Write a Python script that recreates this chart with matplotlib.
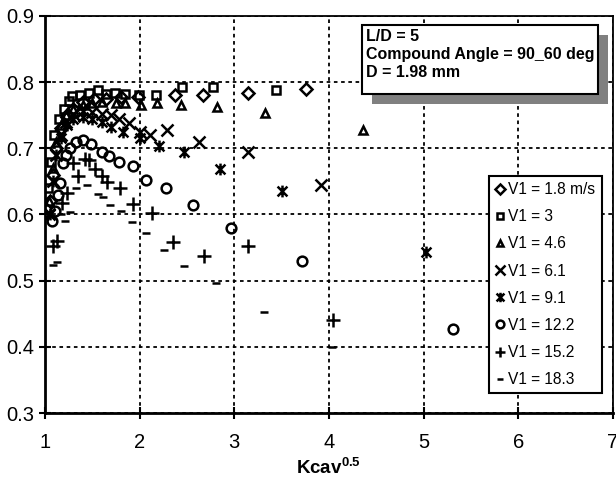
import numpy as np
import matplotlib
matplotlib.use("Agg")
import matplotlib.pyplot as plt
from matplotlib.path import Path
from matplotlib.patches import Rectangle

plt.rcParams['font.family'] = ['Liberation Sans', 'DejaVu Sans']
plt.rcParams['mathtext.fontset'] = 'custom'
plt.rcParams['mathtext.rm'] = 'Liberation Sans'
plt.rcParams['mathtext.bf'] = 'Liberation Sans:bold'

# data (x = Kcav^0.5, y = effectiveness)
v18_x = [1.05, 1.08, 1.12, 1.17, 1.23, 1.30, 1.40, 1.52, 1.65, 1.80, 1.98, 2.37, 2.67, 3.15, 3.76]
v18_y = [0.62, 0.66, 0.70, 0.73, 0.75, 0.76, 0.77, 0.775, 0.775, 0.777, 0.778, 0.781, 0.780, 0.783, 0.789]

v3_x = [1.03, 1.06, 1.10, 1.15, 1.20, 1.25, 1.29, 1.37, 1.47, 1.56, 1.65, 1.74, 1.85, 1.99, 2.17, 2.45, 2.78, 3.44]
v3_y = [0.64, 0.68, 0.72, 0.745, 0.76, 0.772, 0.779, 0.781, 0.784, 0.788, 0.782, 0.784, 0.782, 0.781, 0.781, 0.793, 0.793, 0.788]

v46_x = [1.04, 1.08, 1.12, 1.17, 1.22, 1.30, 1.40, 1.50, 1.60, 1.75, 1.85, 2.01, 2.18, 2.44, 2.82, 3.32, 4.36]
v46_y = [0.62, 0.67, 0.71, 0.735, 0.75, 0.76, 0.765, 0.768, 0.77, 0.769, 0.769, 0.766, 0.769, 0.766, 0.763, 0.754, 0.727]

v61_x = [1.04, 1.08, 1.12, 1.17, 1.22, 1.30, 1.40, 1.50, 1.60, 1.70, 1.78, 1.89, 2.00, 2.11, 2.29, 2.63, 3.15, 3.92]
v61_y = [0.60, 0.65, 0.69, 0.72, 0.74, 0.752, 0.757, 0.755, 0.752, 0.75, 0.745, 0.738, 0.725, 0.72, 0.727, 0.709, 0.695, 0.645]

v91_x = [1.05, 1.08, 1.12, 1.17, 1.23, 1.30, 1.40, 1.50, 1.60, 1.70, 1.82, 2.00, 2.20, 2.47, 2.85, 3.50, 5.03]
v91_y = [0.60, 0.65, 0.69, 0.715, 0.735, 0.745, 0.748, 0.745, 0.74, 0.732, 0.725, 0.716, 0.703, 0.694, 0.669, 0.635, 0.543]

v122_x = [1.07, 1.11, 1.14, 1.16, 1.19, 1.22, 1.26, 1.33, 1.40, 1.49, 1.60, 1.68, 1.78, 1.93, 2.07, 2.28, 2.56, 2.97, 3.72, 5.31]
v122_y = [0.59, 0.605, 0.63, 0.648, 0.678, 0.69, 0.701, 0.71, 0.713, 0.706, 0.695, 0.688, 0.68, 0.673, 0.652, 0.64, 0.614, 0.579, 0.53, 0.427]

v152_x = [1.08, 1.13, 1.18, 1.23, 1.30, 1.35, 1.42, 1.47, 1.53, 1.60, 1.66, 1.79, 1.93, 2.13, 2.35, 2.68, 3.14, 4.04]
v152_y = [0.553, 0.56, 0.618, 0.633, 0.678, 0.658, 0.684, 0.683, 0.668, 0.658, 0.649, 0.64, 0.616, 0.603, 0.558, 0.537, 0.552, 0.44]

v183_x = [1.08, 1.13, 1.17, 1.21, 1.26, 1.33, 1.44, 1.56, 1.61, 1.69, 1.80, 1.92, 2.07, 2.26, 2.47, 2.81, 3.31, 4.03]
v183_y = [0.524, 0.528, 0.60, 0.59, 0.604, 0.64, 0.644, 0.631, 0.627, 0.614, 0.605, 0.588, 0.572, 0.546, 0.522, 0.496, 0.453, 0.40]

labels = ['V1 = 1.8 m/s', 'V1 = 3', 'V1 = 4.6', 'V1 = 6.1',
          'V1 = 9.1', 'V1 = 12.2', 'V1 = 15.2', 'V1 = 18.3']

x_ticks = [1, 2, 3, 4, 5, 6, 7]
y_ticks = [0.3, 0.4, 0.5, 0.6, 0.7, 0.8, 0.9]

# asterisk marker: an X with a vertical bar
star = Path([(-1, -1), (1, 1), (-1, 1), (1, -1), (0, -1.2), (0, 1.2)],
            [Path.MOVETO, Path.LINETO, Path.MOVETO, Path.LINETO, Path.MOVETO, Path.LINETO])

series = [
    (v18_x, v18_y, 'D', 6),
    (v3_x, v3_y, 's', 6),
    (v46_x, v46_y, '^', 6),
    (v61_x, v61_y, 'x', 8.5),
    (v91_x, v91_y, star, 8.5),
    (v122_x, v122_y, 'o', 7),
    (v152_x, v152_y, '+', 9.5),
    (v183_x, v183_y, '_', 5.5),
]

fig = plt.figure(figsize=(6.16, 4.82), dpi=100)
ax = fig.add_axes([0.073, 0.143, 0.922, 0.824])

for (xs, ys, mk, ms), lab in zip(series, labels):
    ax.plot(xs, ys, linestyle='none', marker=mk, markersize=ms,
            markerfacecolor='none', markeredgecolor='black',
            markeredgewidth=1.8, color='black', label=lab)

ax.set_xlim(1, 7)
ax.set_ylim(0.3, 0.9)
ax.set_xticks(x_ticks)
ax.set_yticks(y_ticks)
ax.set_yticklabels([f"{v:.1f}" for v in y_ticks])
ax.tick_params(direction='inout', length=8, width=1.5, labelsize=14.5, colors='black')
ax.tick_params(axis='x', pad=10)
ax.grid(True, color='black', linestyle=(0, (2, 2)), linewidth=1.3)
ax.set_axisbelow(True)
for side in ['left', 'bottom']:
    ax.spines[side].set_linewidth(2)
for side in ['top', 'right']:
    ax.spines[side].set_linewidth(1.3)

ax.set_xlabel(r'$\mathbf{Kcav}^{\mathbf{0.5}}$', fontsize=13.5, labelpad=4)

leg = ax.legend(loc='upper left', bbox_to_anchor=(489 / 616, 1 - 176 / 482),
                bbox_transform=fig.transFigure,
                frameon=True, fancybox=False, edgecolor='black', framealpha=1,
                fontsize=11.2, handlelength=0.6, handletextpad=0.25, borderpad=0.4,
                borderaxespad=0, labelspacing=0.78, markerscale=0.8)
leg.get_frame().set_linewidth(1.5)
leg.set_zorder(5)

# text box with grey shadow
fig.patches.append(Rectangle((372 / 616, 1 - 104 / 482), 236 / 616, 69 / 482,
                             transform=fig.transFigure, facecolor='#808080',
                             edgecolor='none', zorder=4))
fig.patches.append(Rectangle((362 / 616, 1 - 94 / 482), 236 / 616, 69 / 482,
                             transform=fig.transFigure, facecolor='white',
                             edgecolor='black', linewidth=1.5, zorder=5))
fig.text(366 / 616, 1 - 29 / 482, 'L/D = 5\nCompound Angle = 90_60 deg\nD = 1.98 mm',
         fontsize=11.5, fontweight='bold', va='top', ha='left', linespacing=1.25, zorder=6)

fig.savefig('out.png', dpi=100)
